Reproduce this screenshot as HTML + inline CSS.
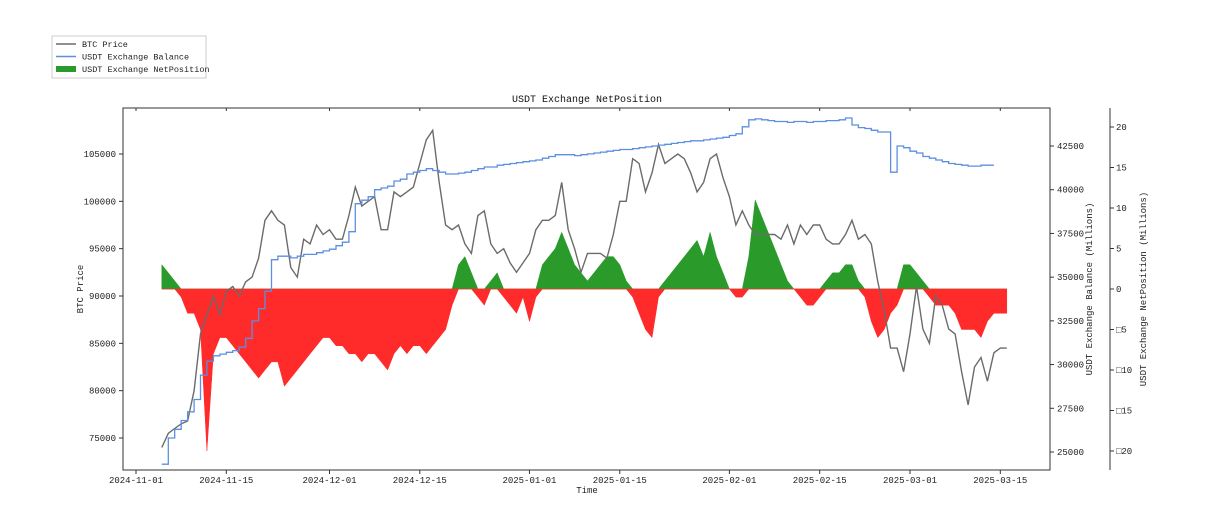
<!DOCTYPE html>
<html><head><meta charset="utf-8"><style>
body{margin:0;background:#fff;}
svg{display:block;font-family:"Liberation Mono","Noto Sans CJK SC",monospace;}
</style></head><body>
<svg id="c" width="1220" height="522" viewBox="0 0 1220 522"></svg>
<script>
const btcPrice=[74000,75500,76000,76500,76800,80000,86000,88000,90000,88000,90500,91000,90000,91500,92000,94000,98000,99000,98000,97500,93000,92000,96000,95500,97500,96500,
97000,96000,96000,98500,101500,99500,100000,100500,97000,97000,101000,100500,101000,101500,104000,106500,107500,102000,97500,97000,97500,95500,94500,98500,99000,95500,94500,95000,93500,92500,93500,
94500,97000,98000,98000,98500,102000,97000,95000,92500,94500,94500,94500,94000,96500,100000,100000,104500,104000,101000,103000,106000,104000,104500,105000,104500,103000,101000,102000,104500,105000,102500,
100500,97500,99000,97500,96500,96500,96500,96500,96000,97500,95500,97500,96500,97500,97500,96000,95500,95500,96500,98000,96000,96500,95500,91500,88500,84500,84500,82000,
86000,91000,86500,85000,90000,89000,86500,86000,82000,78500,82500,83500,81000,84000,84500,84500];
const balance=[24300,25800,26300,26800,27300,28000,29400,30200,30500,30600,30700,30800,31000,31500,32500,33200,34200,36000,36200,36200,36100,36200,36300,36300,36400,36500,
36600,36800,37000,37600,39200,39400,39600,40000,40100,40200,40500,40600,40900,41000,41100,41200,41100,41000,40900,40900,40950,41000,41100,41200,41300,41300,41400,41450,41500,41550,41600,
41650,41700,41800,41900,42000,42000,42000,41950,42000,42050,42100,42150,42200,42250,42300,42300,42350,42400,42450,42500,42550,42600,42650,42700,42750,42800,42800,42850,42900,42950,43000,
43100,43200,43600,44000,44050,44000,43950,43900,43900,43850,43900,43900,43850,43900,43900,43950,43950,44000,44100,43700,43550,43500,43400,43300,43300,41000,
42500,42400,42200,42100,41900,41800,41700,41600,41500,41450,41400,41350,41350,41400,41400,41400];
const netPos=[3,2,1,-1,-3,-3,-5,-20,-8,-6,-6,-7,-8,-9,-10,-11,-10,-9,-9,-12,-11,-10,-9,-8,-7,-6,
-6,-7,-7,-8,-8,-9,-8,-8,-9,-10,-8,-7,-8,-7,-7,-8,-7,-6,-5,-2,3,4,2,-1,-2,1,2,-1,-2,-3,-1,
-4,-1,3,4,5,7,5,3,2,1,2,3,4,4,3,1,-1,-3,-5,-6,-1,1,2,3,4,5,6,4,7,4,2,
0,-1,-1,4,11,9,7,5,3,1,0,-1,-2,-2,-1,1,2,2,3,3,1,-1,-4,-6,-5,-3,-2,3,
3,2,1,-1,-2,-2,-2,-3,-5,-5,-5,-6,-4,-3,-3,-3];
const xTickLabels=["2024-11-01","2024-11-15","2024-12-01","2024-12-15","2025-01-01","2025-01-15","2025-02-01","2025-02-15","2025-03-01","2025-03-15"];
const xTickDays=[0,14,30,44,61,75,92,106,120,134];
const btcTicks=[75000,80000,85000,90000,95000,100000,105000];
const balTicks=[25000,27500,30000,32500,35000,37500,40000,42500];
const netTicks=[20,15,10,5,0,-5,-10,-15,-20];
const startDay=4;

const NS="http://www.w3.org/2000/svg";
const svg=document.getElementById('c');
function el(t,a,p){const e=document.createElementNS(NS,t);for(const k in a)e.setAttribute(k,a[k]);(p||svg).appendChild(e);return e;}
const L=123,R=1050,T=108,B=470;
const xDay=d=>136+d*6.45;
function yB(v){return 438-(v-75000)*284/30000;}
function yBal(v){return 452-(v-25000)*306/17500;}
function yNet(v){return 289-v*8.1;}

function area(sign,color,name){
  let d='M'+xDay(startDay).toFixed(1)+','+yNet(0);
  netPos.forEach((v,i)=>{const vv=sign>0?Math.max(v,0):Math.min(v,0);d+='L'+xDay(startDay+i).toFixed(1)+','+yNet(vv).toFixed(1);});
  d+='L'+xDay(startDay+netPos.length-1).toFixed(1)+','+yNet(0)+'Z';
  const p=el('path',{d:d,fill:color,stroke:color,'stroke-width':'0.5'});
  
  
}
area(1,'#2a9a2a','netposition-positive-area');
area(-1,'#ff2a2a','netposition-negative-area');
let d='';btcPrice.forEach((v,i)=>{d+=(i?'L':'M')+xDay(startDay+i).toFixed(1)+','+yB(v).toFixed(1);});
const pb=el('path',{d:d,fill:'none',stroke:'#6b6b6b','stroke-width':'1.4'});


d='';balance.forEach((v,i)=>{const x=xDay(startDay+i),y=yBal(v);d+=(i?'H'+x.toFixed(1)+'V':'M'+x.toFixed(1)+',')+y.toFixed(1);});
const pl=el('path',{d:d,fill:'none',stroke:'#5b8fe0','stroke-width':'1.3'});



const fr=el('rect',{x:L,y:T,width:R-L,height:B-T,fill:'none',stroke:'#333','stroke-width':'1'});


el('line',{x1:1110,y1:T,x2:1110,y2:B,stroke:'#333'});
const fs=9;
xTickLabels.forEach((t,i)=>{const x=xDay(xTickDays[i]);
  el('line',{x1:x,y1:B,x2:x,y2:B+4,stroke:'#333'});el('line',{x1:x,y1:T,x2:x,y2:T+3,stroke:'#333'});
  const tx=el('text',{x:x,y:B+13,'font-size':fs,'text-anchor':'middle',fill:'#222'});tx.textContent=t;
  });
btcTicks.forEach(v=>{const y=yB(v);el('line',{x1:L-4,y1:y,x2:L,y2:y,stroke:'#333'});
  const tx=el('text',{x:L-7,y:y+3,'font-size':fs,'text-anchor':'end',fill:'#222'});tx.textContent=v;
  });
balTicks.forEach(v=>{const y=yBal(v);el('line',{x1:R,y1:y,x2:R+4,y2:y,stroke:'#333'});
  const tx=el('text',{x:R+7,y:y+3,'font-size':fs,fill:'#222'});tx.textContent=v;
  });
netTicks.forEach(v=>{const y=yNet(v);el('line',{x1:1110,y1:y,x2:1114,y2:y,stroke:'#333'});
  const tx=el('text',{x:1116,y:y+3,'font-size':fs,fill:'#222'});tx.textContent=v<0?'\u25A1'+(-v):String(v);
  });
function lab(txt,x,y,rot,name){const t=el('text',{x:x,y:y,'font-size':fs,'text-anchor':'middle',fill:'#222',transform:rot?`rotate(-90 ${x} ${y})`:''});t.textContent=txt;
  }
lab('Time',587,493,false,'x-axis-title');
lab('BTC Price',83,289,true,'btc-axis-title');
lab('USDT Exchange Balance (Millions)',1092,289,true,'balance-axis-title');
lab('USDT Exchange NetPosition (Millions)',1146,289,true,'netposition-axis-title');
const tt=el('text',{x:587,y:102,'font-size':10,'text-anchor':'middle',fill:'#111'});tt.textContent='USDT Exchange NetPosition';

const lg=el('g',{});
el('rect',{x:52,y:36,width:154,height:42,fill:'#fff',stroke:'#ccc'},lg);
const items=[['BTC Price','#6b6b6b',0],['USDT Exchange Balance','#5b8fe0',0],['USDT Exchange NetPosition','#2a9a2a',1]];
items.forEach((it,i)=>{const y=44+i*12.5;
  if(it[2])el('rect',{x:56,y:y-3,width:20,height:6,fill:it[1]},lg);else el('line',{x1:56,y1:y,x2:76,y2:y,stroke:it[1],'stroke-width':1.4},lg);
  const t=el('text',{x:82,y:y+3,'font-size':8.5,fill:'#222'},lg);t.textContent=it[0];
  });
</script></body></html>
